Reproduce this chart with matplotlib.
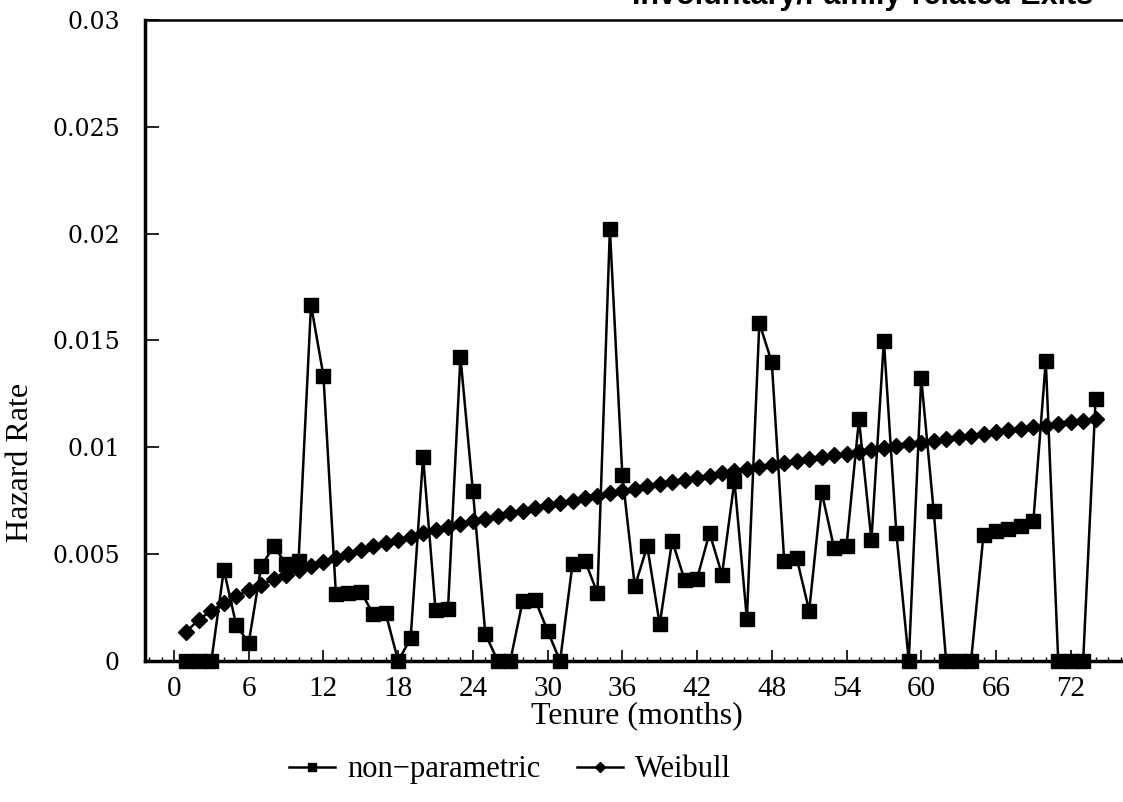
#!/usr/bin/env python3
# Hazard rate by tenure: non-parametric estimate vs fitted Weibull curve.
import matplotlib
matplotlib.use("Agg")
import matplotlib.pyplot as plt  # noqa: E402
from matplotlib.ticker import MultipleLocator  # noqa: E402

MONTHS = list(range(1, 75))

NONPARAM = [
    0.0, 0.0, 0.0, 0.00427, 0.00168, 0.00085, 0.00443, 0.00537, 0.00455, 0.00466,
    0.01667, 0.01335, 0.00313, 0.00318, 0.00325, 0.00219, 0.00223, 0.0, 0.00106, 0.00955,
    0.00239, 0.00242, 0.01424, 0.00795, 0.00127, 0.0, 0.0, 0.00282, 0.00286, 0.00141,
    0.0, 0.00454, 0.00469, 0.00318, 0.02023, 0.00869, 0.00349, 0.00537, 0.00172, 0.00563,
    0.00380, 0.00385, 0.00600, 0.00404, 0.00842, 0.00197, 0.01582, 0.01398, 0.00466, 0.00482,
    0.00235, 0.00792, 0.00529, 0.00540, 0.01131, 0.00565, 0.01499, 0.00600, 0.0, 0.01324,
    0.00701, 0.0, 0.0, 0.0, 0.00592, 0.00608, 0.00620, 0.00632, 0.00654, 0.01405,
    0.0, 0.0, 0.0, 0.01225,
]

WEIBULL = [
    0.00138, 0.00194, 0.00236, 0.00272, 0.00303, 0.00331, 0.00357, 0.00382, 0.00404, 0.00426,
    0.00446, 0.00465, 0.00484, 0.00502, 0.00519, 0.00536, 0.00552, 0.00567, 0.00582, 0.00597,
    0.00612, 0.00626, 0.00639, 0.00653, 0.00666, 0.00679, 0.00692, 0.00704, 0.00716, 0.00728,
    0.00740, 0.00751, 0.00763, 0.00774, 0.00785, 0.00796, 0.00807, 0.00817, 0.00828, 0.00838,
    0.00848, 0.00858, 0.00868, 0.00878, 0.00888, 0.00897, 0.00907, 0.00916, 0.00926, 0.00935,
    0.00944, 0.00953, 0.00962, 0.00971, 0.00979, 0.00988, 0.00997, 0.01005, 0.01014, 0.01022,
    0.01030, 0.01038, 0.01047, 0.01055, 0.01063, 0.01071, 0.01079, 0.01086, 0.01094, 0.01102,
    0.01110, 0.01117, 0.01125, 0.01132,
]

X_TICKS = list(range(0, 73, 6))
Y_TICKS = [0, 0.005, 0.01, 0.015, 0.02, 0.025, 0.03]
Y_LABELS = ["0", "0.005", "0.01", "0.015", "0.02", "0.025", "0.03"]

SERIF = "Liberation Serif"


def main():
    fig = plt.figure(figsize=(11.23, 8.02), dpi=100)
    ax = fig.add_axes([0.1291, 0.1758, 0.8709, 0.7993])

    ax.plot(MONTHS, NONPARAM, color="black", lw=1.8, marker="s", ms=9.5,
            clip_on=False, zorder=3, label="non\u2212parametric")
    ax.plot(MONTHS, WEIBULL, color="black", lw=1.8, marker="D", ms=8.5,
            clip_on=False, zorder=4, label="Weibull")

    ax.set_xlim(-2.33, 76.2)
    ax.set_ylim(0, 0.03)

    ax.set_xticks(X_TICKS)
    ax.xaxis.set_minor_locator(MultipleLocator(1))
    ax.set_yticks(Y_TICKS)
    ax.set_yticklabels(Y_LABELS)

    ax.tick_params(axis="x", which="major", direction="in", length=8, width=1.2,
                   pad=11, labelsize=21)
    ax.tick_params(axis="x", which="minor", direction="in", length=3, width=1)
    ax.tick_params(axis="y", direction="in", length=10, width=1.2, pad=18,
                   labelsize=17)
    for lab in ax.get_xticklabels():
        lab.set_family(SERIF)
    for lab in ax.get_yticklabels():
        lab.set_family("DejaVu Serif")

    ax.spines["right"].set_visible(False)
    ax.spines["left"].set_linewidth(2.5)
    ax.spines["bottom"].set_linewidth(2.5)
    ax.spines["top"].set_linewidth(1.8)

    ax.set_xlabel("Tenure (months)", family=SERIF, fontsize=23)
    ax.xaxis.set_label_coords(0.503, -0.062)
    ax.set_ylabel("Hazard Rate", family=SERIF, fontsize=23)
    ax.yaxis.set_label_coords(-0.112, 0.31)

    # title sits mostly above the page edge in the source scan
    fig.text(593 / 1123, 1 - 4 / 802, "\u2014 Involuntary/Family-related Exits",
             ha="left", va="baseline", fontsize=22, family="Liberation Sans",
             fontweight="bold")

    handles, labels = ax.get_legend_handles_labels()
    fig.legend(handles, labels, loc="center", bbox_to_anchor=(0.454, 0.04),
               ncol=2, frameon=False, handlelength=1.5, handletextpad=0.4,
               columnspacing=1.2, prop={"family": SERIF, "size": 22},
               markerscale=0.6)

    fig.savefig("out.png", dpi=100)
    plt.close(fig)


if __name__ == "__main__":
    main()
